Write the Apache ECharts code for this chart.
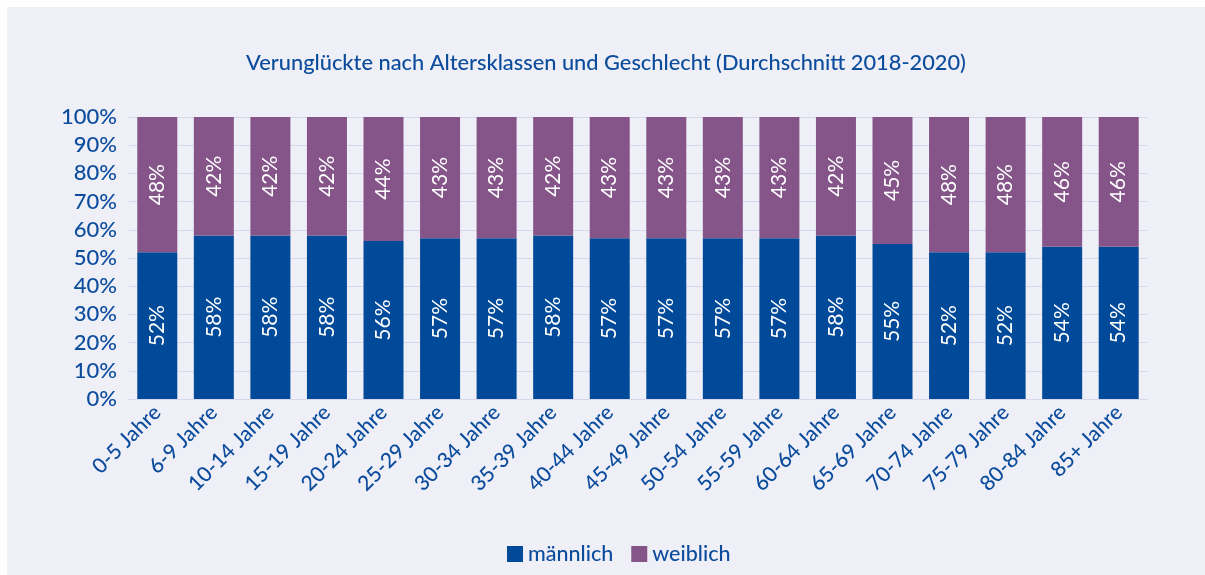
<!DOCTYPE html>
<html><head><meta charset="utf-8">
<script src="https://cdn.jsdelivr.net/npm/echarts@6/dist/echarts.min.js"></script>
<style>html,body{margin:0;padding:0;background:#fff;}#c{position:absolute;left:7px;top:7px;width:1198px;height:568px;background:#EFEFF7;}</style>
</head><body><div id="c"></div>
<script>
const categories = ['0-5 Jahre','6-9 Jahre','10-14 Jahre','15-19 Jahre','20-24 Jahre','25-29 Jahre','30-34 Jahre','35-39 Jahre','40-44 Jahre','45-49 Jahre','50-54 Jahre','55-59 Jahre','60-64 Jahre','65-69 Jahre','70-74 Jahre','75-79 Jahre','80-84 Jahre','85+ Jahre'];
const maennlich = [52,58,58,58,56,57,57,58,57,57,57,57,58,55,52,52,54,54];
const weiblich  = [48,42,42,42,44,43,43,42,43,43,43,43,42,45,48,48,46,46];
const yTicks = [0,10,20,30,40,50,60,70,80,90,100];

const FONT = 'Lato';
const TXT = '#0B4C9C';
const chart = echarts.init(document.getElementById('c'));
const lbl = {show:true, position:'inside', rotate:90, color:'#fff', fontSize:21, fontFamily:FONT, formatter:p=>p.value+'%'};
chart.setOption({
  backgroundColor:'#EFEFF7',
  animation:false,
  title:{text:'Verunglückte nach Altersklassen und Geschlecht (Durchschnitt 2018-2020)', left:'center', top:40,
    textStyle:{color:TXT, fontSize:21.8, fontWeight:500, fontFamily:FONT}},
  legend:{data:['männlich','weiblich'], top:531, left:495, itemWidth:16, itemHeight:16, itemGap:18,
    icon:'rect', textStyle:{color:TXT, fontSize:21.5, fontWeight:500, fontFamily:FONT}},
  grid:{left:122, top:110, width:1018, height:282, containLabel:false},
  xAxis:{type:'category', data:categories, axisTick:{show:false},
    axisLine:{lineStyle:{color:'#D6D6EC'}},
    axisLabel:{rotate:45, color:TXT, fontSize:21, fontWeight:500, fontFamily:FONT, margin:10, interval:0}},
  yAxis:{type:'value', min:0, max:100, interval:10,
    axisLabel:{formatter:v=>v+'%', color:TXT, fontSize:22, fontWeight:500, fontFamily:FONT, margin:12},
    splitLine:{lineStyle:{color:'#D6D6EC'}}, axisLine:{show:false}, axisTick:{show:false}},
  series:[
    {name:'männlich', type:'bar', stack:'a', data:maennlich, barWidth:40, itemStyle:{color:'#004A99'}, label:lbl},
    {name:'weiblich', type:'bar', stack:'a', data:weiblich, barWidth:40, itemStyle:{color:'#85558A'}, label:lbl}
  ]
});
</script></body></html>
